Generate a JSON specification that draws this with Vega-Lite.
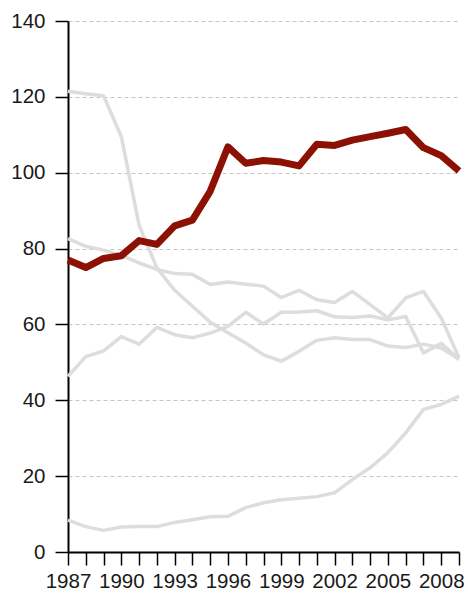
{
  "$schema": "https://vega.github.io/schema/vega-lite/v6.json",
  "width": 391,
  "height": 531,
  "autosize": "none",
  "padding": {"left": 68, "top": 21, "right": 9, "bottom": 42},
  "background": "white",
  "config": {
    "view": {"stroke": null},
    "axis": {
      "labelFont": "Liberation Sans",
      "labelFontSize": 20.5,
      "labelColor": "#1a1a1a",
      "domainColor": "#000000",
      "domainWidth": 2,
      "labelFlush": false,
      "ticks": true,
      "tickColor": "#000000",
      "tickSize": 13,
      "tickWidth": 1.5,
      "title": null
    }
  },
  "datasets": {
    "others": [
      {"year": 1987, "series": "A", "value": 121.5}, {"year": 1988, "series": "A", "value": 120.8}, {"year": 1989, "series": "A", "value": 120.3}, {"year": 1990, "series": "A", "value": 109.5}, {"year": 1991, "series": "A", "value": 86.2}, {"year": 1992, "series": "A", "value": 74.9}, {"year": 1993, "series": "A", "value": 69.0}, {"year": 1994, "series": "A", "value": 64.8}, {"year": 1995, "series": "A", "value": 60.6}, {"year": 1996, "series": "A", "value": 57.8}, {"year": 1997, "series": "A", "value": 55.1}, {"year": 1998, "series": "A", "value": 52.0}, {"year": 1999, "series": "A", "value": 50.3}, {"year": 2000, "series": "A", "value": 52.9}, {"year": 2001, "series": "A", "value": 55.8}, {"year": 2002, "series": "A", "value": 56.5}, {"year": 2003, "series": "A", "value": 56.0}, {"year": 2004, "series": "A", "value": 56.0}, {"year": 2005, "series": "A", "value": 54.3}, {"year": 2006, "series": "A", "value": 53.9}, {"year": 2007, "series": "A", "value": 54.8}, {"year": 2008, "series": "A", "value": 53.8}, {"year": 2009, "series": "A", "value": 50.8},
      {"year": 1987, "series": "B", "value": 82.6}, {"year": 1988, "series": "B", "value": 80.6}, {"year": 1989, "series": "B", "value": 79.6}, {"year": 1990, "series": "B", "value": 78.2}, {"year": 1991, "series": "B", "value": 76.2}, {"year": 1992, "series": "B", "value": 74.5}, {"year": 1993, "series": "B", "value": 73.4}, {"year": 1994, "series": "B", "value": 73.2}, {"year": 1995, "series": "B", "value": 70.5}, {"year": 1996, "series": "B", "value": 71.2}, {"year": 1997, "series": "B", "value": 70.6}, {"year": 1998, "series": "B", "value": 70.1}, {"year": 1999, "series": "B", "value": 67.1}, {"year": 2000, "series": "B", "value": 69.0}, {"year": 2001, "series": "B", "value": 66.5}, {"year": 2002, "series": "B", "value": 65.8}, {"year": 2003, "series": "B", "value": 68.7}, {"year": 2004, "series": "B", "value": 65.2}, {"year": 2005, "series": "B", "value": 61.7}, {"year": 2006, "series": "B", "value": 67.0}, {"year": 2007, "series": "B", "value": 68.7}, {"year": 2008, "series": "B", "value": 61.7}, {"year": 2009, "series": "B", "value": 51.2},
      {"year": 1987, "series": "C", "value": 46.3}, {"year": 1988, "series": "C", "value": 51.5}, {"year": 1989, "series": "C", "value": 53.0}, {"year": 1990, "series": "C", "value": 56.8}, {"year": 1991, "series": "C", "value": 54.8}, {"year": 1992, "series": "C", "value": 59.2}, {"year": 1993, "series": "C", "value": 57.3}, {"year": 1994, "series": "C", "value": 56.5}, {"year": 1995, "series": "C", "value": 57.7}, {"year": 1996, "series": "C", "value": 59.5}, {"year": 1997, "series": "C", "value": 63.2}, {"year": 1998, "series": "C", "value": 60.1}, {"year": 1999, "series": "C", "value": 63.2}, {"year": 2000, "series": "C", "value": 63.3}, {"year": 2001, "series": "C", "value": 63.6}, {"year": 2002, "series": "C", "value": 62.0}, {"year": 2003, "series": "C", "value": 61.8}, {"year": 2004, "series": "C", "value": 62.2}, {"year": 2005, "series": "C", "value": 61.2}, {"year": 2006, "series": "C", "value": 62.1}, {"year": 2007, "series": "C", "value": 52.5}, {"year": 2008, "series": "C", "value": 55.0}, {"year": 2009, "series": "C", "value": 50.8},
      {"year": 1987, "series": "D", "value": 8.4}, {"year": 1988, "series": "D", "value": 6.7}, {"year": 1989, "series": "D", "value": 5.7}, {"year": 1990, "series": "D", "value": 6.6}, {"year": 1991, "series": "D", "value": 6.7}, {"year": 1992, "series": "D", "value": 6.7}, {"year": 1993, "series": "D", "value": 7.8}, {"year": 1994, "series": "D", "value": 8.5}, {"year": 1995, "series": "D", "value": 9.3}, {"year": 1996, "series": "D", "value": 9.4}, {"year": 1997, "series": "D", "value": 11.7}, {"year": 1998, "series": "D", "value": 13.0}, {"year": 1999, "series": "D", "value": 13.8}, {"year": 2000, "series": "D", "value": 14.2}, {"year": 2001, "series": "D", "value": 14.6}, {"year": 2002, "series": "D", "value": 15.6}, {"year": 2003, "series": "D", "value": 19.1}, {"year": 2004, "series": "D", "value": 22.2}, {"year": 2005, "series": "D", "value": 26.2}, {"year": 2006, "series": "D", "value": 31.4}, {"year": 2007, "series": "D", "value": 37.6}, {"year": 2008, "series": "D", "value": 38.9}, {"year": 2009, "series": "D", "value": 41.1}
    ],
    "highlight": [
      {"year": 1987, "value": 77.0}, {"year": 1988, "value": 75.0}, {"year": 1989, "value": 77.4}, {"year": 1990, "value": 78.1}, {"year": 1991, "value": 82.1}, {"year": 1992, "value": 81.1}, {"year": 1993, "value": 86.0}, {"year": 1994, "value": 87.5}, {"year": 1995, "value": 95.1}, {"year": 1996, "value": 106.8}, {"year": 1997, "value": 102.5}, {"year": 1998, "value": 103.2}, {"year": 1999, "value": 102.8}, {"year": 2000, "value": 101.8}, {"year": 2001, "value": 107.5}, {"year": 2002, "value": 107.2}, {"year": 2003, "value": 108.6}, {"year": 2004, "value": 109.5}, {"year": 2005, "value": 110.4}, {"year": 2006, "value": 111.4}, {"year": 2007, "value": 106.6}, {"year": 2008, "value": 104.5}, {"year": 2009, "value": 100.5}
    ]
  },
  "encoding": {
    "x": {
      "field": "year",
      "type": "quantitative",
      "scale": {"domain": [1987, 2009], "nice": false, "zero": false},
      "axis": {
        "tickCount": 22,
        "labelExpr": "(datum.value - 1987) % 3 == 0 ? datum.value : ''",
        "format": "d",
        "grid": false,
        "labelOverlap": false,
        "labelFlush": false,
        "labelPadding": 6
      }
    },
    "y": {
      "field": "value",
      "type": "quantitative",
      "scale": {"domain": [0, 140], "nice": false},
      "axis": {
        "tickCount": 7,
        "grid": true,
        "gridDash": [4, 3],
        "gridColor": "#c4c4c4",
        "gridWidth": 1,
        "labelFlush": false,
        "labelPadding": 10
      }
    }
  },
  "layer": [
    {
      "data": {"name": "others"},
      "mark": {"type": "line", "color": "#dddddd", "strokeWidth": 3.5, "strokeJoin": "round"},
      "encoding": {"detail": {"field": "series", "type": "nominal"}}
    },
    {
      "data": {"name": "highlight"},
      "mark": {"type": "line", "color": "#8c1004", "strokeWidth": 7, "strokeJoin": "round"},
      "encoding": {}
    }
  ]
}
